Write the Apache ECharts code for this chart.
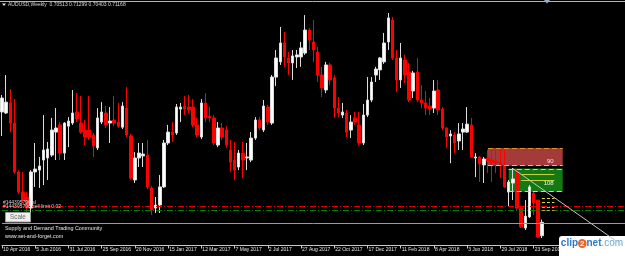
<!DOCTYPE html>
<html>
<head>
<meta charset="utf-8">
<script src="https://cdn.jsdelivr.net/npm/echarts@6/dist/echarts.min.js"></script>
<style>
  html, body { margin: 0; padding: 0; background: #000; }
  #chart { width: 625px; height: 256px; }
</style>
</head>
<body>
<div id="chart"></div>
<script>
// AUDUSD weekly, one value per week starting 10 Apr 2016
var opens = [
  0.7654, 0.7649, 0.7698, 0.7600, 0.7362, 0.7264, 0.7240, 0.7186, 0.7362, 0.7371,
  0.7420, 0.7430, 0.7444, 0.7556, 0.7591, 0.7454, 0.7585, 0.7600, 0.7654, 0.7600,
  0.7566, 0.7566, 0.7542, 0.7479, 0.7605, 0.7649, 0.7600, 0.7615, 0.7605, 0.7580,
  0.7673, 0.7537, 0.7323, 0.7430, 0.7440, 0.7444, 0.7284, 0.7186, 0.7201, 0.7289,
  0.7503, 0.7556, 0.7552, 0.7668, 0.7683, 0.7678, 0.7678, 0.7591, 0.7532, 0.7698,
  0.7634, 0.7625, 0.7493, 0.7576, 0.7566, 0.7469, 0.7420, 0.7386, 0.7454, 0.7430,
  0.7420, 0.7527, 0.7615, 0.7566, 0.7678, 0.7600, 0.7824, 0.7898, 0.7990, 0.7917,
  0.7893, 0.7922, 0.7922, 0.7941, 0.8053, 0.7995, 0.7946, 0.7834, 0.7761, 0.7883,
  0.7820, 0.7673, 0.7639, 0.7649, 0.7566, 0.7625, 0.7591, 0.7503, 0.7639, 0.7712,
  0.7834, 0.7859, 0.7898, 0.7995, 0.8102, 0.7917, 0.7810, 0.7907, 0.7849, 0.7756,
  0.7849, 0.7712, 0.7698, 0.7683, 0.7673, 0.7761, 0.7668, 0.7576, 0.7537, 0.7542,
  0.7513, 0.7556, 0.7556, 0.7591, 0.7430, 0.7435, 0.7396, 0.7430, 0.7420, 0.7415,
  0.7410, 0.7396, 0.7264, 0.7308, 0.7362, 0.7186, 0.7089, 0.7143, 0.7259, 0.7225,
  0.70513
];
var closes = [
  0.7722, 0.7702, 0.7600, 0.7362, 0.7264, 0.7225, 0.7186, 0.7362, 0.7376, 0.7391,
  0.7469, 0.7474, 0.7566, 0.7576, 0.7454, 0.7600, 0.7610, 0.7649, 0.7620, 0.7556,
  0.7532, 0.7532, 0.7488, 0.7625, 0.7654, 0.7591, 0.7610, 0.7600, 0.7585, 0.7683,
  0.7542, 0.7332, 0.7430, 0.7454, 0.7449, 0.7289, 0.7177, 0.7201, 0.7289, 0.7503,
  0.7556, 0.7542, 0.7678, 0.7678, 0.7668, 0.7664, 0.7591, 0.7542, 0.7698, 0.7625,
  0.7625, 0.7503, 0.7576, 0.7532, 0.7493, 0.7410, 0.7371, 0.7454, 0.7420, 0.7435,
  0.7527, 0.7615, 0.7576, 0.7683, 0.7605, 0.7824, 0.7917, 0.7990, 0.7922, 0.7893,
  0.7927, 0.7932, 0.7966, 0.8053, 0.8004, 0.7956, 0.7834, 0.7771, 0.7883, 0.7810,
  0.7673, 0.7649, 0.7654, 0.7556, 0.7605, 0.7605, 0.7503, 0.7639, 0.7712, 0.7800,
  0.7863, 0.7917, 0.7990, 0.8112, 0.7917, 0.7810, 0.7917, 0.7834, 0.7712, 0.7844,
  0.7712, 0.7698, 0.7673, 0.7668, 0.7756, 0.7664, 0.7576, 0.7532, 0.7547, 0.7503,
  0.7547, 0.7571, 0.7595, 0.7435, 0.7435, 0.7401, 0.7425, 0.7415, 0.7405, 0.7405,
  0.7396, 0.7289, 0.7313, 0.7328, 0.7186, 0.7094, 0.7147, 0.7289, 0.7211, 0.7045,
  0.71168
];
var lows = [
  0.7537, 0.7644, 0.7556, 0.7352, 0.7254, 0.7211, 0.7157, 0.7162, 0.7289, 0.7284,
  0.7298, 0.7323, 0.7435, 0.7420, 0.7420, 0.7420, 0.7483, 0.7591, 0.7605, 0.7547,
  0.7493, 0.7518, 0.7435, 0.7469, 0.7595, 0.7576, 0.7503, 0.7585, 0.7576, 0.7571,
  0.7532, 0.7323, 0.7308, 0.7386, 0.7386, 0.7279, 0.7152, 0.7162, 0.7162, 0.7284,
  0.7493, 0.7508, 0.7542, 0.7605, 0.7639, 0.7649, 0.7580, 0.7532, 0.7522, 0.7605,
  0.7605, 0.7493, 0.7483, 0.7518, 0.7479, 0.7362, 0.7323, 0.7371, 0.7332, 0.7371,
  0.7410, 0.7518, 0.7566, 0.7556, 0.7591, 0.7591, 0.7780, 0.7883, 0.7874, 0.7834,
  0.7810, 0.7868, 0.7874, 0.7932, 0.7956, 0.7898, 0.7800, 0.7727, 0.7746, 0.7785,
  0.7625, 0.7629, 0.7625, 0.7532, 0.7527, 0.7591, 0.7493, 0.7493, 0.7629, 0.7702,
  0.7800, 0.7810, 0.7888, 0.7956, 0.7907, 0.7751, 0.7771, 0.7795, 0.7702, 0.7722,
  0.7702, 0.7673, 0.7639, 0.7639, 0.7649, 0.7639, 0.7566, 0.7479, 0.7405, 0.7454,
  0.7469, 0.7469, 0.7552, 0.7430, 0.7337, 0.7313, 0.7308, 0.7357, 0.7313, 0.7357,
  0.7332, 0.7284, 0.7191, 0.7225, 0.7177, 0.7089, 0.7079, 0.7138, 0.7152, 0.7040,
  0.70403
];
var highs = [
  0.7737, 0.7834, 0.7766, 0.7717, 0.7371, 0.7362, 0.7264, 0.7371, 0.7503, 0.7435,
  0.7639, 0.7508, 0.7625, 0.7673, 0.7605, 0.7605, 0.7629, 0.7761, 0.7746, 0.7732,
  0.7615, 0.7732, 0.7552, 0.7673, 0.7702, 0.7683, 0.7678, 0.7732, 0.7698, 0.7702,
  0.7775, 0.7547, 0.7459, 0.7503, 0.7503, 0.7518, 0.7293, 0.7240, 0.7347, 0.7518,
  0.7591, 0.7605, 0.7693, 0.7698, 0.7732, 0.7737, 0.7717, 0.7625, 0.7717, 0.7746,
  0.7678, 0.7639, 0.7605, 0.7600, 0.7585, 0.7518, 0.7508, 0.7469, 0.7508, 0.7503,
  0.7556, 0.7629, 0.7629, 0.7712, 0.7688, 0.7834, 0.7956, 0.8068, 0.8043, 0.7946,
  0.7956, 0.7956, 0.7995, 0.8126, 0.8063, 0.8102, 0.7971, 0.7874, 0.7898, 0.7893,
  0.7834, 0.7727, 0.7698, 0.7664, 0.7639, 0.7654, 0.7654, 0.7693, 0.7824, 0.7824,
  0.7874, 0.7922, 0.8039, 0.8136, 0.8117, 0.7956, 0.7990, 0.7932, 0.7893, 0.7854,
  0.7917, 0.7785, 0.7756, 0.7722, 0.7810, 0.7810, 0.7678, 0.7580, 0.7566, 0.7556,
  0.7600, 0.7600, 0.7678, 0.7625, 0.7454, 0.7440, 0.7435, 0.7469, 0.7469, 0.7469,
  0.7474, 0.7469, 0.7323, 0.7381, 0.7371, 0.7191, 0.7225, 0.7298, 0.7274, 0.7225,
  0.71299
];

// order levels drawn across the whole chart
var sellLimitLevel = 0.71937;
var stopLevel = 0.71742;
var grayLevel = 0.71109;

var months = ['Jan', 'Feb', 'Mar', 'Apr', 'May', 'Jun', 'Jul', 'Aug', 'Sep', 'Oct', 'Nov', 'Dec'];
var weeks = [];
var day = Date.UTC(2016, 3, 10);
for (var i = 0; i < 151; i++) {
  var d = new Date(day + i * 7 * 86400000);
  weeks.push(d.getUTCDate() + ' ' + months[d.getUTCMonth()] + ' ' + d.getUTCFullYear());
}

var candles = opens.map(function (o, i) {
  return [o, closes[i], lows[i], highs[i]];
});

var showTick = function (idx) { return idx % 8 === 0 && idx <= 128; };
var small = '"Liberation Sans", Arial, sans-serif';

function levelLine(value, color, dash) {
  return {
    type: 'line', data: [[0, value], [150, value]], symbol: 'none', silent: true,
    lineStyle: { color: color, width: 1, type: dash }
  };
}

var chart = echarts.init(document.getElementById('chart'), null, { renderer: 'canvas' });

chart.setOption({
  backgroundColor: '#000000',
  animation: false,
  grid: { left: 0, right: 0, top: 2, bottom: 10.5 },
  xAxis: {
    type: 'category',
    data: weeks,
    boundaryGap: false,
    axisLine: { show: true, lineStyle: { color: '#c8c8c8', width: 1 } },
    axisTick: { show: true, interval: showTick, length: 3, lineStyle: { color: '#c8c8c8' } },
    axisLabel: {
      interval: showTick, color: '#e2e2e2', fontSize: 5, fontFamily: small,
      align: 'left', margin: 2, padding: [0, 0, 0, 1]
    },
    splitLine: { show: false }
  },
  yAxis: { type: 'value', min: 0.70038, max: 0.81896, show: false },
  series: [
    levelLine(sellLimitLevel, '#e00000', [6, 2, 1, 2]),
    levelLine(stopLevel, '#008000', [6, 2, 1, 2]),
    levelLine(grayLevel, '#9a9a9a', 'solid'),
    {
      type: 'candlestick',
      data: candles,
      barWidth: 3,
      itemStyle: {
        color: '#ffffff', color0: '#ff0000',
        borderColor: '#dcdcdc', borderColor0: '#ff0000', borderWidth: 1
      },
      markArea: {
        silent: true,
        data: [
          [{ name: '90', coord: [117, 0.74786], itemStyle: { color: '#a53a3a' },
             label: { show: true, position: 'insideRight', distance: 9, offset: [0, 4], color: '#f0dede', fontSize: 6, fontFamily: small } },
           { coord: [135, 0.73924] }],
          [{ name: '108', coord: [122, 0.73787], itemStyle: { color: '#137a13' },
             label: { show: true, position: 'insideRight', distance: 9, offset: [0, 3], color: '#f4f4f4', fontSize: 6, fontFamily: small } },
           { coord: [135, 0.72657] }]
        ]
      },
      markLine: {
        silent: true,
        symbol: ['none', 'none'],
        label: { show: false },
        lineStyle: { width: 1, type: 'solid' },
        data: [
          [{ coord: [117, 0.74786], lineStyle: { color: '#d8962a', type: [5, 3] } }, { coord: [135, 0.74786] }],
          [{ coord: [117, 0.73924], lineStyle: { color: '#d8d030', type: [5, 3] } }, { coord: [135, 0.73924] }],
          [{ coord: [122, 0.73763], lineStyle: { color: '#e0e040', type: [5, 3] } }, { coord: [135, 0.73763] }],
          [{ coord: [122, 0.72691], lineStyle: { color: '#e0e040', type: [5, 3] } }, { coord: [135, 0.72691] }],
          [{ coord: [125, 0.73519], lineStyle: { color: '#c8d040' } }, { coord: [133, 0.73519] }],
          [{ coord: [125, 0.73227], lineStyle: { color: '#c8d040' } }, { coord: [133, 0.73227] }],
          [{ coord: [130, 0.72350], lineStyle: { color: '#e0e040', type: [3, 2] } }, { coord: [133, 0.72350] }],
          [{ coord: [130, 0.72122], lineStyle: { color: '#e0e040', type: [3, 2] } }, { coord: [133, 0.72122] }],
          [{ coord: [130, 0.71897], lineStyle: { color: '#d8b030', type: [3, 2] } }, { coord: [133, 0.71897] }],
          [{ coord: [130, 0.71766], lineStyle: { color: '#c8a030', type: [3, 2] } }, { coord: [133, 0.71766] }],
          [{ coord: [123, 0.73787], lineStyle: { color: '#c4c4c4' } }, { coord: [149, 0.70091] }]
        ]
      }
    }
  ],
  graphic: [
    { type: 'line', z: 100, shape: { x1: 0, y1: 1.5, x2: 625, y2: 1.5 }, style: { stroke: '#b4b4b4', lineWidth: 1 } },
    { type: 'polygon', z: 100, shape: { points: [[2, 3.5], [6, 3.5], [4, 6]] }, style: { fill: '#e0e0e0' } },
    { type: 'text', z: 100, x: 8, y: 5, style: { text: 'AUDUSD,Weekly  0.70513 0.71299 0.70403 0.71168', fill: '#d8d8d8', font: '5px ' + small, textVerticalAlign: 'middle' } },
    { type: 'polygon', z: 100, shape: { points: [[544, 0], [550, 0], [547, 3.5]] }, style: { fill: '#9aaec8' } },
    { type: 'text', z: 100, x: 3, y: 203, style: { text: '#144395796 sl', fill: '#d0d0d0', font: '5px ' + small, textVerticalAlign: 'middle' } },
    { type: 'text', z: 100, x: 3, y: 207, style: { text: '#144395796 sell limit 0.02', fill: '#d0d0d0', font: '5px ' + small, textVerticalAlign: 'middle' } },
    { type: 'rect', z: 100, shape: { x: 5.5, y: 212.5, width: 25, height: 9.5 }, style: { fill: '#efefef', stroke: '#9a9a9a', lineWidth: 1 } },
    { type: 'text', z: 101, x: 18, y: 217.2, style: { text: 'Scale', fill: '#6a6a6a', font: '6.3px ' + small, textAlign: 'center', textVerticalAlign: 'middle' } },
    { type: 'text', z: 100, x: 5, y: 228.5, style: { text: 'Supply and Demand Trading Community', fill: '#e8e8e8', font: '5.4px ' + small, textVerticalAlign: 'middle' } },
    { type: 'text', z: 100, x: 5, y: 237, style: { text: 'www.set-and-forget.com', fill: '#e8e8e8', font: '5.4px ' + small, textVerticalAlign: 'middle' } },
    { type: 'rect', z: 1, shape: { x: 559, y: 236, width: 66, height: 20, r: [3, 0, 0, 0] }, style: { fill: '#ffffff' } },
    { type: 'text', z: 1, x: 592, y: 243.5, style: {
        text: '{a|clip}{b|2}{a|net}{c|.com}', textAlign: 'center', textVerticalAlign: 'middle',
        rich: {
          a: { fill: '#2a7cc8', font: 'bold 10px ' + small },
          b: { fill: '#ffffff', font: 'bold 8px ' + small, backgroundColor: '#e8642a', borderRadius: 5, padding: [1, 2, 0, 2] },
          c: { fill: '#6aa8dc', font: '10px ' + small }
        }
      } }
  ]
});
</script>
</body>
</html>
